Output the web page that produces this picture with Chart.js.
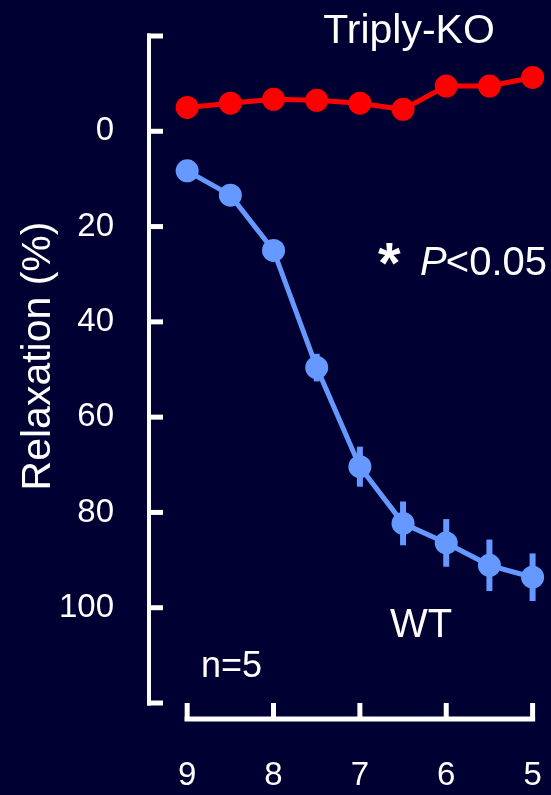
<!DOCTYPE html>
<html>
<head>
<meta charset="utf-8">
<script src="https://cdn.jsdelivr.net/npm/chart.js@4.4.1/dist/chart.umd.min.js"></script>
<style>
  html, body { margin: 0; padding: 0; background: #000033; }
  canvas { display: block; }
</style>
</head>
<body>
<canvas id="relaxation-chart" width="551" height="795"></canvas>
<script>
// -log[M] concentrations (x) and relaxation in % (y, axis reversed)
var doses = [9, 8.5, 8, 7.5, 7, 6.5, 6, 5.5, 5];
var koValues = [-5.0, -5.9, -6.7, -6.5, -5.9, -4.6, -9.5, -9.5, -11.3];
var koErrors = [1, 1, 1, 1, 1, 1, 1, 1, 1];
var wtValues = [8.3, 13.4, 25.0, 49.6, 70.4, 82.3, 86.4, 91.1, 93.6];
var wtErrors = [1, 1.5, 2, 2.9, 4.2, 4.6, 5.0, 5.4, 5.0];
var xTicks = [9, 8, 7, 6, 5];
var yTicks = [0, 20, 40, 60, 80, 100];
var yBracket = [-20, 0, 20, 40, 60, 80, 100, 120];

var bg = '#000033';
var fontFamily = '"Liberation Sans", Arial, Helvetica, sans-serif';

function toPoints(values) {
  return doses.map(function(d, i) { return { x: d, y: values[i] }; });
}

// no extra room for the tick labels, the layout is fixed by hand
function noPadding(scale) {
  scale.paddingLeft = 0;
  scale.paddingRight = 0;
  scale.paddingTop = 0;
  scale.paddingBottom = 0;
}

// Background
var bgPlugin = {
  id: 'bg',
  beforeDraw: function(chart) {
    var ctx = chart.ctx;
    ctx.save();
    ctx.fillStyle = bg;
    ctx.fillRect(0, 0, chart.width, chart.height);
    ctx.restore();
  }
};

// Axis brackets + error bars, drawn under the points
var bracketPlugin = {
  id: 'brackets',
  beforeDatasetsDraw: function(chart) {
    var ctx = chart.ctx;
    var xs = chart.scales.x;
    var ys = chart.scales.y;
    var left = chart.chartArea.left;
    var bottom = chart.chartArea.bottom;
    ctx.save();
    ctx.strokeStyle = '#ffffff';
    ctx.lineCap = 'butt';

    // y bracket
    var yTop = ys.getPixelForValue(yBracket[0]);
    var yBot = ys.getPixelForValue(yBracket[yBracket.length - 1]);
    ctx.lineWidth = 4;
    ctx.beginPath();
    ctx.moveTo(left, yTop - 2.5);
    ctx.lineTo(left, yBot + 2.5);
    ctx.stroke();
    ctx.lineWidth = 5;
    yBracket.forEach(function(v) {
      var py = ys.getPixelForValue(v);
      ctx.beginPath();
      ctx.moveTo(left - 2, py);
      ctx.lineTo(left + 14, py);
      ctx.stroke();
    });

    // x bracket
    var lineY = bottom + 16;
    var x0 = xs.getPixelForValue(xTicks[0]);
    var x1 = xs.getPixelForValue(xTicks[xTicks.length - 1]);
    ctx.lineWidth = 5;
    ctx.beginPath();
    ctx.moveTo(x0 - 2.5, lineY);
    ctx.lineTo(x1 + 2.5, lineY);
    ctx.stroke();
    xTicks.forEach(function(v) {
      var px = xs.getPixelForValue(v);
      ctx.beginPath();
      ctx.moveTo(px, lineY + 2);
      ctx.lineTo(px, bottom);
      ctx.stroke();
    });

    // error bars
    chart.data.datasets.forEach(function(ds) {
      ctx.strokeStyle = ds.borderColor;
      ctx.lineWidth = 6;
      ds.data.forEach(function(p, i) {
        var px = xs.getPixelForValue(p.x);
        ctx.beginPath();
        ctx.moveTo(px, ys.getPixelForValue(p.y - ds.errors[i]));
        ctx.lineTo(px, ys.getPixelForValue(p.y + ds.errors[i]));
        ctx.stroke();
      });
    });
    ctx.restore();
  }
};

// Labels inside the figure
var textPlugin = {
  id: 'texts',
  afterDraw: function(chart) {
    var ctx = chart.ctx;
    ctx.save();
    ctx.fillStyle = '#ffffff';
    ctx.textBaseline = 'alphabetic';

    ctx.font = '41px ' + fontFamily;
    ctx.textAlign = 'center';
    ctx.fillText('Triply-KO', 409, 43);

    ctx.textAlign = 'left';
    ctx.font = '40px ' + fontFamily;
    ctx.fillText('WT', 390, 637);

    ctx.font = '36px ' + fontFamily;
    ctx.fillText('n=5', 201, 677);

    // * P<0.05
    ctx.font = '40px ' + fontFamily;
    ctx.textAlign = 'right';
    ctx.fillText('<0.05', 547, 275);
    var rest = ctx.measureText('<0.05').width;
    ctx.font = 'italic 40px ' + fontFamily;
    ctx.fillText('P', 547 - rest + 1, 275);
    ctx.textAlign = 'left';
    ctx.font = 'bold 58px ' + fontFamily;
    ctx.fillText('*', 378, 283);

    // y axis title
    ctx.translate(50, 356);
    ctx.rotate(-Math.PI / 2);
    ctx.textAlign = 'center';
    ctx.font = '41px ' + fontFamily;
    ctx.fillText('Relaxation (%)', 0, 0);
    ctx.restore();
  }
};

var ctx = document.getElementById('relaxation-chart').getContext('2d');
var chart = new Chart(ctx, {
  type: 'line',
  data: {
    datasets: [{
      label: 'Triply-KO',
      data: toPoints(koValues),
      errors: koErrors,
      borderColor: '#ff0000',
      backgroundColor: '#ff0000',
      borderWidth: 5,
      pointRadius: 11.5,
      pointBorderWidth: 0,
      pointBackgroundColor: '#ff0000',
      tension: 0,
      clip: false
    }, {
      label: 'WT',
      data: toPoints(wtValues),
      errors: wtErrors,
      borderColor: '#6699ff',
      backgroundColor: '#6699ff',
      borderWidth: 5,
      pointRadius: 11.5,
      pointBorderWidth: 0,
      pointBackgroundColor: '#6699ff',
      tension: 0,
      clip: false
    }]
  },
  options: {
    responsive: false,
    animation: false,
    events: [],
    layout: { padding: { top: 36, right: 3, left: 0, bottom: 0 } },
    plugins: {
      legend: { display: false },
      tooltip: { enabled: false },
      title: { display: false }
    },
    scales: {
      x: {
        type: 'linear',
        min: 4.92,
        max: 9.442,
        reverse: true,
        grid: { display: false },
        border: { display: false },
        afterBuildTicks: function(scale) {
          scale.ticks = xTicks.map(function(v) { return { value: v }; });
        },
        afterFit: function(scale) {
          scale.height = 92;
          noPadding(scale);
        },
        ticks: {
          color: '#ffffff',
          padding: 45,
          maxRotation: 0,
          font: { family: fontFamily, size: 33 }
        }
      },
      y: {
        type: 'linear',
        min: -20,
        max: 120,
        reverse: true,
        grid: { display: false },
        border: { display: false },
        afterBuildTicks: function(scale) {
          scale.ticks = yTicks.map(function(v) { return { value: v }; });
        },
        afterFit: function(scale) {
          scale.width = 149;
          noPadding(scale);
        },
        ticks: {
          color: '#ffffff',
          padding: 27,
          font: { family: fontFamily, size: 33 }
        }
      }
    }
  },
  plugins: [bgPlugin, bracketPlugin, textPlugin]
});
</script>
</body>
</html>
